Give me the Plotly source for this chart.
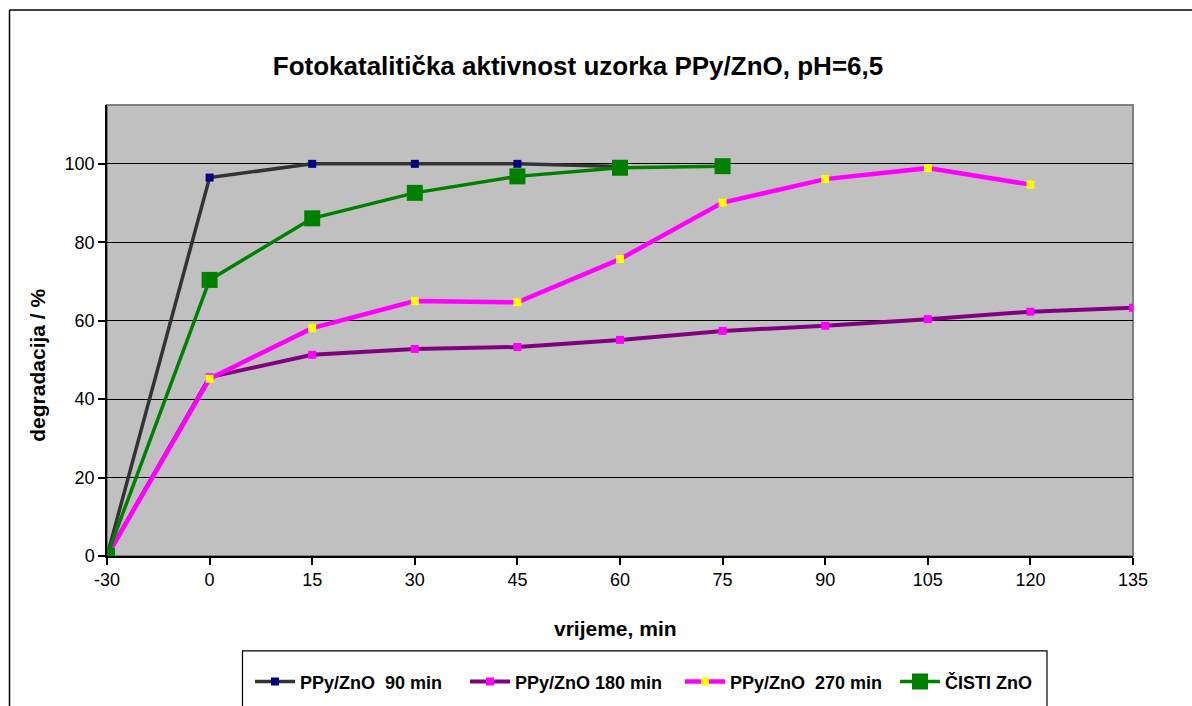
import plotly.graph_objects as go

categories = ["-30", "0", "15", "30", "45", "60", "75", "90", "105", "120", "135"]

s90_name = "PPy/ZnO\u00a0 90 min"
s90 = [0, 96.5, 100.0, 100.0, 100.0, 99.3]

s180_name = "PPy/ZnO 180 min"
s180 = [0, 45.6, 51.3, 52.8, 53.3, 55.1, 57.4, 58.7, 60.4, 62.3, 63.3]

s270_name = "PPy/ZnO\u00a0 270 min"
s270 = [0, 45.2, 58.1, 65.0, 64.7, 75.7, 90.1, 96.1, 98.9, 94.7]

zno_name = "ČISTI ZnO"
zno = [0, 70.4, 86.1, 92.6, 96.8, 99.0, 99.4]

yticks = [0, 20, 40, 60, 80, 100]

FONT = "Liberation Sans, Arial, sans-serif"

W, H = 1192, 706
PL, PT = 107, 105
PR, PB = 1133, 556.5
pw, ph = PR - PL, PB - PT


def px(x):
    return (x - PL) / pw


def py(y):
    return (PB - y) / ph


fig = go.Figure()
fig.add_trace(go.Scatter(x=categories[:len(s90)], y=s90, name=s90_name, mode="lines+markers",
                         line=dict(color="#333333", width=3.5),
                         marker=dict(symbol="square", size=8, color="#000080")))
fig.add_trace(go.Scatter(x=categories[:len(s180)], y=s180, name=s180_name, mode="lines+markers",
                         line=dict(color="#800080", width=4),
                         marker=dict(symbol="square", size=8, color="#FF00FF")))
fig.add_trace(go.Scatter(x=categories[:len(s270)], y=s270, name=s270_name, mode="lines+markers",
                         line=dict(color="#FF00FF", width=4.5),
                         marker=dict(symbol="square", size=8, color="#FFFF00")))
fig.add_trace(go.Scatter(x=categories[:len(zno)], y=zno, name=zno_name, mode="lines+markers",
                         line=dict(color="#008000", width=3.5),
                         marker=dict(symbol="square", size=16, color="#008000")))

fig.update_layout(
    width=W, height=H,
    margin=dict(l=PL, r=W - PR, t=PT, b=H - PB, autoexpand=False),
    paper_bgcolor="white",
    plot_bgcolor="#C0C0C0",
    font=dict(family=FONT, color="black", size=18),
    showlegend=True,
    title=dict(text="<b>Fotokatalitička aktivnost uzorka PPy/ZnO, pH=6,5</b>",
               x=578 / W, xanchor="center", y=1 - 66 / H, yanchor="middle",
               font=dict(family=FONT, size=26, color="black")),
    legend=dict(orientation="h", x=px(250), xanchor="left", y=py(664), yanchor="top",
                font=dict(family=FONT, size=18, color="black", weight="bold"),
                bgcolor="rgba(0,0,0,0)", borderwidth=0, entrywidth=160,
                itemwidth=40, traceorder="normal"),
    xaxis=dict(type="category", categoryorder="array", categoryarray=categories,
               range=[0, len(categories) - 1],
               showgrid=False, zeroline=False,
               showline=True, linecolor="black", linewidth=1.5,
               ticks="outside", ticklen=7, tickcolor="black", tickwidth=1.5,
               tickfont=dict(family=FONT, size=18, color="black")),
    yaxis=dict(range=[0, 115], tickvals=yticks, ticktext=[str(v) for v in yticks],
               showgrid=True, gridcolor="black", gridwidth=1.2,
               zeroline=False, showline=True, linecolor="black", linewidth=1.5,
               ticks="outside", ticklen=7, tickcolor="black", tickwidth=1.5,
               tickfont=dict(family=FONT, size=18, color="black")),
    annotations=[
        dict(text="<b>vrijeme, min</b>", xref="paper", yref="paper",
             x=px(615), y=py(629), xanchor="center", yanchor="middle", showarrow=False,
             font=dict(family=FONT, size=21, color="black")),
        dict(text="<b>degradacija / %</b>", xref="paper", yref="paper",
             x=px(38), y=py(366), xanchor="center", yanchor="middle", showarrow=False,
             textangle=-90, font=dict(family=FONT, size=21, color="black")),
    ],
)

# plot area border (gray, top/right)
fig.add_shape(type="rect", xref="paper", yref="paper", x0=0, x1=1, y0=0, y1=1,
              line=dict(color="#808080", width=2), layer="below")
# outer chart border: top and left edges (right/bottom lie outside the picture)
fig.add_shape(type="line", xref="paper", yref="paper",
              x0=px(9.5), x1=px(1200), y0=py(10), y1=py(10),
              line=dict(color="black", width=1.5))
fig.add_shape(type="line", xref="paper", yref="paper",
              x0=px(9.5), x1=px(9.5), y0=py(10), y1=py(720),
              line=dict(color="black", width=1.5))
# legend box (bottom edge lies outside the picture)
fig.add_shape(type="path", xref="paper", yref="paper",
              path=(f"M {px(242.5)},{py(720)} L {px(242.5)},{py(651.5)} "
                    f"L {px(1047)},{py(651.5)} L {px(1047)},{py(720)}"),
              line=dict(color="black", width=1.2), fillcolor="rgba(0,0,0,0)")

fig.write_html(
    "out.html",
    config={"displayModeBar": False},
    post_script="document.body.style.margin='0';document.body.style.overflow='hidden';",
)
